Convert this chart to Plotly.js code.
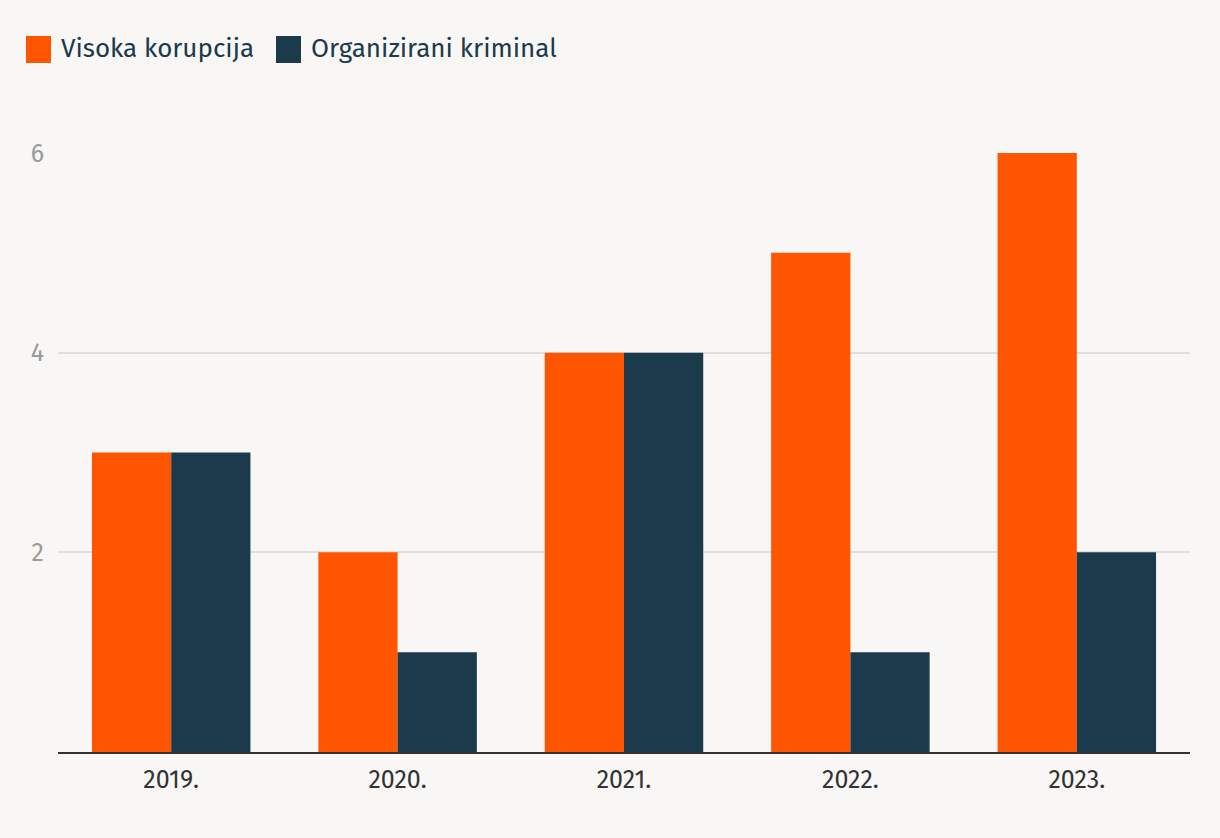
<!DOCTYPE html>
<html><head><meta charset="utf-8">
<script src="https://cdn.plot.ly/plotly-3.0.1.min.js"></script>
<style>html,body{margin:0;padding:0;background:#f8f7f5;}</style>
</head><body><div id="chart" style="width:1220px;height:838px;"></div>
<script>
const years = ['2019.', '2020.', '2021.', '2022.', '2023.'];
const visokaKorupcija = [3, 2, 4, 5, 6];
const organiziraniKriminal = [3, 1, 4, 1, 2];
const seriesNames = ['Visoka korupcija', 'Organizirani kriminal'];
const colors = ['#ff5500', '#1b3a4b'];
const yTicks = [2, 4, 6];

const font = 'Fira Sans, "Noto Sans", "Open Sans", sans-serif';
const data = [
  {type: 'bar', name: seriesNames[0], x: years, y: visokaKorupcija, marker: {color: colors[0]}, hoverinfo: 'x+y'},
  {type: 'bar', name: seriesNames[1], x: years, y: organiziraniKriminal, marker: {color: colors[1]}, hoverinfo: 'x+y'}
];
const legendShapes = [];
const legendAnn = [];
const legendX = [26, 276];
seriesNames.forEach((n, i) => {
  legendShapes.push({type: 'rect', xref: 'paper', yref: 'paper', layer: 'above',
    x0: (legendX[i] - 58) / 1132, x1: (legendX[i] + 25 - 58) / 1132,
    y0: (752 - 63) / 599, y1: (752 - 36) / 599,
    fillcolor: colors[i], line: {width: 0}});
  legendAnn.push({xref: 'paper', yref: 'paper', x: (legendX[i] + 33 - 58) / 1132, y: (752 - 48) / 599,
    xanchor: 'left', yanchor: 'middle', showarrow: false, text: n,
    font: {family: font, size: 26, color: '#1b3a4b'}});
});
const layout = {
  width: 1220, height: 838,
  paper_bgcolor: '#f8f7f5', plot_bgcolor: '#f8f7f5',
  margin: {l: 58, r: 30, t: 153, b: 86},
  barmode: 'group', bargap: 0.3, bargroupgap: 0,
  showlegend: false,
  font: {family: font},
  xaxis: {type: 'category', showgrid: false, showline: true, linecolor: '#333333', linewidth: 2,
    ticks: '', ticklabelstandoff: 4, tickfont: {family: font, size: 25, color: '#333333'}, fixedrange: true},
  yaxis: {range: [0, 6], tickvals: yTicks, ticktext: yTicks.map(String), showgrid: true,
    gridcolor: '#e0e0e0', gridwidth: 1.5, zeroline: false, showline: false, ticks: '',
    ticklabelstandoff: 13,
    tickfont: {family: font, size: 25, color: '#9a9a9a'}, fixedrange: true},
  shapes: legendShapes,
  annotations: legendAnn
};
Plotly.newPlot('chart', data, layout, {displayModeBar: false});
</script></body></html>
